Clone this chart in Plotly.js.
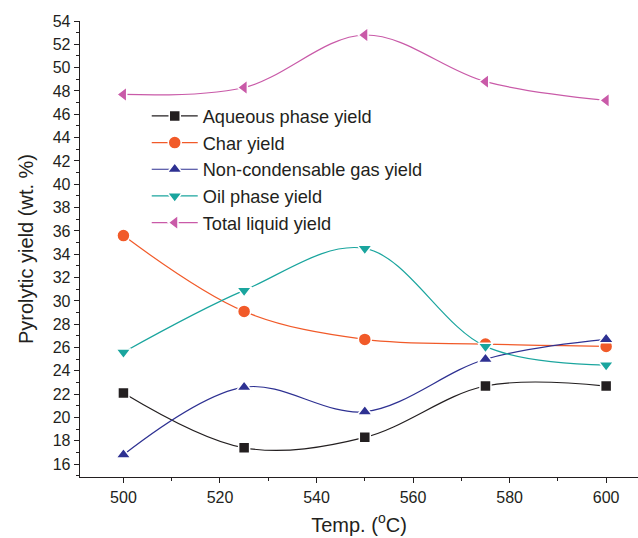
<!DOCTYPE html>
<html>
<head>
<meta charset="utf-8">
<script src="https://cdn.plot.ly/plotly-3.0.1.min.js"></script>
<style>html,body{margin:0;padding:0;background:#fff}#chart{width:638px;height:538px}</style>
</head>
<body>
<div id="chart"></div>
<script>
const temps = [500, 525, 550, 575, 600];
const aqueous = [22.1, 17.4, 18.3, 22.7, 22.7];
const charYield = [35.6, 29.1, 26.7, 26.3, 26.1];
const gasYield = [16.8, 22.6, 20.5, 25.0, 26.7];
const oilYield = [25.6, 30.9, 34.5, 26.1, 24.5];
const totalLiquid = [47.7, 48.3, 52.8, 48.8, 47.2];
const seriesNames = ['Aqueous phase yield', 'Char yield', 'Non-condensable gas yield', 'Oil phase yield', 'Total liquid yield'];
const xTicks = [500, 520, 540, 560, 580, 600];
const yTicks = [16,18,20,22,24,26,28,30,32,34,36,38,40,42,44,46,48,50,52,54];

const colors = ['#231f20', '#f15a29', '#2e3192', '#1aa59e', '#c95aa8'];
const symbols = ['square', 'circle', 'triangle-up', 'triangle-down', 'triangle-left'];
const data = [aqueous, charYield, gasYield, oilYield, totalLiquid];

const traces = data.map((ys, i) => ({
  x: temps, y: ys, name: seriesNames[i], type: 'scatter', mode: 'lines+markers',
  line: {color: colors[i], width: 1.2, shape: 'spline', smoothing: 1},
  marker: {symbol: symbols[i], size: i === 0 ? 11 : 13, color: colors[i], line: {color: '#fff', width: 1.5}}
}));

const fontFam = 'Liberation Sans, Arial, sans-serif';
const layout = {
  width: 638, height: 538,
  margin: {l: 80, r: 0, t: 21, b: 61},
  paper_bgcolor: '#fff', plot_bgcolor: '#fff',
  font: {family: fontFam, color: '#231f20', size: 16},
  showlegend: true,
  legend: {x: 0.1196, y: 0.832, xanchor: 'left', yanchor: 'top', itemwidth: 46, bgcolor: 'rgba(0,0,0,0)', font: {size: 18.2, color: '#231f20'}, tracegroupgap: 0},
  xaxis: {
    range: [491, 606.6], tickvals: xTicks, ticktext: xTicks.map(String),
    showline: true, linecolor: '#231f20', linewidth: 1.3, showgrid: false, zeroline: false,
    ticks: 'outside', ticklen: 5, tickcolor: '#231f20', tickwidth: 1,
    minor: {tickvals: [510, 530, 550, 570, 590], ticks: 'outside', ticklen: 3, tickcolor: '#231f20', showgrid: false},
    tickfont: {size: 16}, title: {text: 'Temp. (<sup>o</sup>C)', font: {size: 20}, standoff: 13}
  },
  xaxis2: {
    overlaying: 'x', side: 'top', anchor: 'y', range: [491, 606.6], tickvals: [500,510,520,530,540,550,560,570,580,590,600],
    showticklabels: false, showline: true, linecolor: '#231f20', linewidth: 1.3, ticks: 'inside', ticklen: 3, tickcolor: '#231f20', showgrid: false, zeroline: false
  },
  yaxis: {
    range: [14.9, 54], tickvals: yTicks, ticktext: yTicks.map(String),
    showline: true, linecolor: '#231f20', linewidth: 1.3, showgrid: false, zeroline: false,
    ticks: 'outside', ticklen: 5, tickcolor: '#231f20', tickwidth: 1,
    minor: {dtick: 1, ticks: 'outside', ticklen: 3, tickcolor: '#231f20', showgrid: false},
    tickfont: {size: 16}, title: {text: 'Pyrolytic yield (wt. %)', font: {size: 20}, standoff: 13}
  }
};

Plotly.newPlot('chart', traces, layout, {displayModeBar: false, staticPlot: true});
</script>
</body>
</html>
